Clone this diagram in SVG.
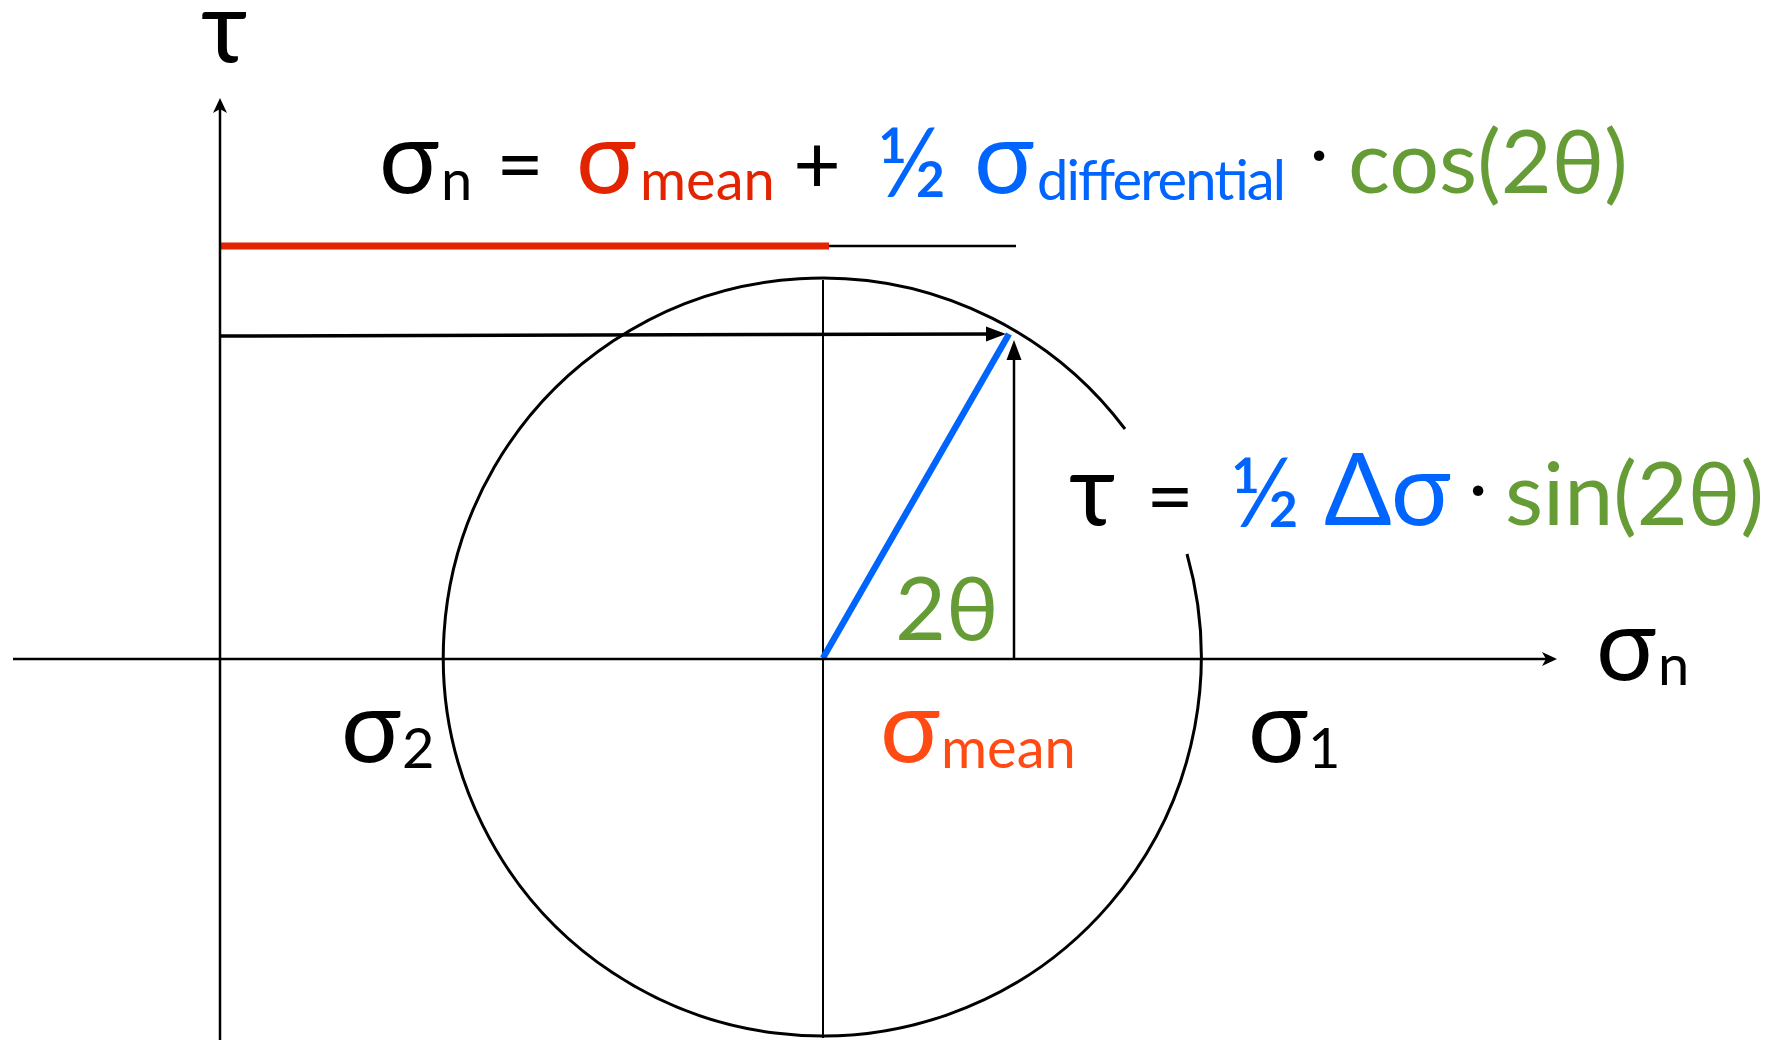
<svg xmlns="http://www.w3.org/2000/svg" width="1771" height="1040" viewBox="0 0 1771 1040">
<style>
text{font-family:Lato,"Open Sans","DejaVu Sans",sans-serif;}
.big{font-size:100px;}
.mid{font-size:82px;}
.grn{font-size:88px;}
.half{font-size:96px;}
.sub{font-size:56px;}
.dot{font-size:70px;}
.k{fill:#000;}
.r{fill:#E32400;}
.o{fill:#FF4A14;}
.b{fill:#0064FF;}
.g{fill:#669C35;}
.ln{stroke:#000;fill:none;}
</style>
<defs>
<marker id="axis" markerUnits="userSpaceOnUse" viewBox="-24 -9 26 18" refX="-8" refY="0" markerWidth="26" markerHeight="18" orient="auto">
<path d="M0,0 L-15,-7 L-11,0 L-15,7 Z" fill="#000"/>
</marker>
<marker id="tri" markerUnits="userSpaceOnUse" viewBox="-24 -9 26 18" refX="-6" refY="0" markerWidth="26" markerHeight="18" orient="auto">
<path d="M0,0 L-20,-7.5 L-20,7.5 Z" fill="#000"/>
</marker>
</defs>
<g id="shapes">
<path id="circle" class="ln" stroke-width="3" d="M1187,554 A379,379 0 1 1 1125,429"/>
<line x1="823" y1="280" x2="823" y2="1038" class="ln" stroke-width="2"/>
<line x1="220" y1="246" x2="829" y2="246" stroke="#E32400" stroke-width="7"/>
<line x1="829" y1="246" x2="1016" y2="246" class="ln" stroke-width="2.5"/>
<line x1="823" y1="658" x2="1009" y2="334" stroke="#0064FF" stroke-width="6.5"/>
</g>
<g id="connectors">
<line x1="220" y1="1040" x2="220" y2="106" class="ln" stroke-width="2.5" marker-end="url(#axis)"/>
<line x1="13" y1="659" x2="1549" y2="659" class="ln" stroke-width="2.5" marker-end="url(#axis)"/>
<line x1="220" y1="336" x2="1000" y2="334" class="ln" stroke-width="3.5" marker-end="url(#tri)"/>
<line x1="1014" y1="658" x2="1014" y2="346" class="ln" stroke-width="2.5" marker-end="url(#tri)"/>
</g>
<g id="labels">
<text x="201" y="62" class="big k">τ</text>
<g id="eq1">
<text x="379" y="193" class="big k">σ</text>
<text x="441" y="200" class="sub k">n</text>
<text x="520" y="193" class="mid k" text-anchor="middle">=</text>
<text x="576" y="193" class="big r">σ</text>
<text x="640" y="200" class="sub r">mean</text>
<text x="817" y="193" class="mid k" text-anchor="middle">+</text>
<text x="912" y="197" class="half b" text-anchor="middle">½</text>
<text x="974" y="193" class="big b">σ</text>
<text x="1037" y="200" class="sub b" textLength="249">differential</text>
<text x="1319" y="177" class="dot k" text-anchor="middle">·</text>
<text x="1348" y="193" class="grn g">cos(2θ)</text>
</g>
<g id="eq2">
<text x="1069" y="525" class="big k">τ</text>
<text x="1170" y="525" class="mid k" text-anchor="middle">=</text>
<text x="1265" y="527" class="half b" text-anchor="middle">½</text>
<text x="1324" y="525" class="big b">Δσ</text>
<text x="1478" y="512" class="dot k" text-anchor="middle">·</text>
<text x="1505" y="525" class="grn g">sin(2θ)</text>
</g>
<text x="895" y="640" class="grn g">2θ</text>
<text x="1596" y="680" class="big k">σ</text>
<text x="1658" y="685" class="sub k">n</text>
<text x="341" y="762" class="big k">σ</text>
<text x="402" y="768" class="sub k">2</text>
<text x="880" y="762" class="big o">σ</text>
<text x="941" y="768" class="sub o">mean</text>
<text x="1248" y="762" class="big k">σ</text>
<text x="1308" y="768" class="sub k">1</text>
</g>
</svg>
